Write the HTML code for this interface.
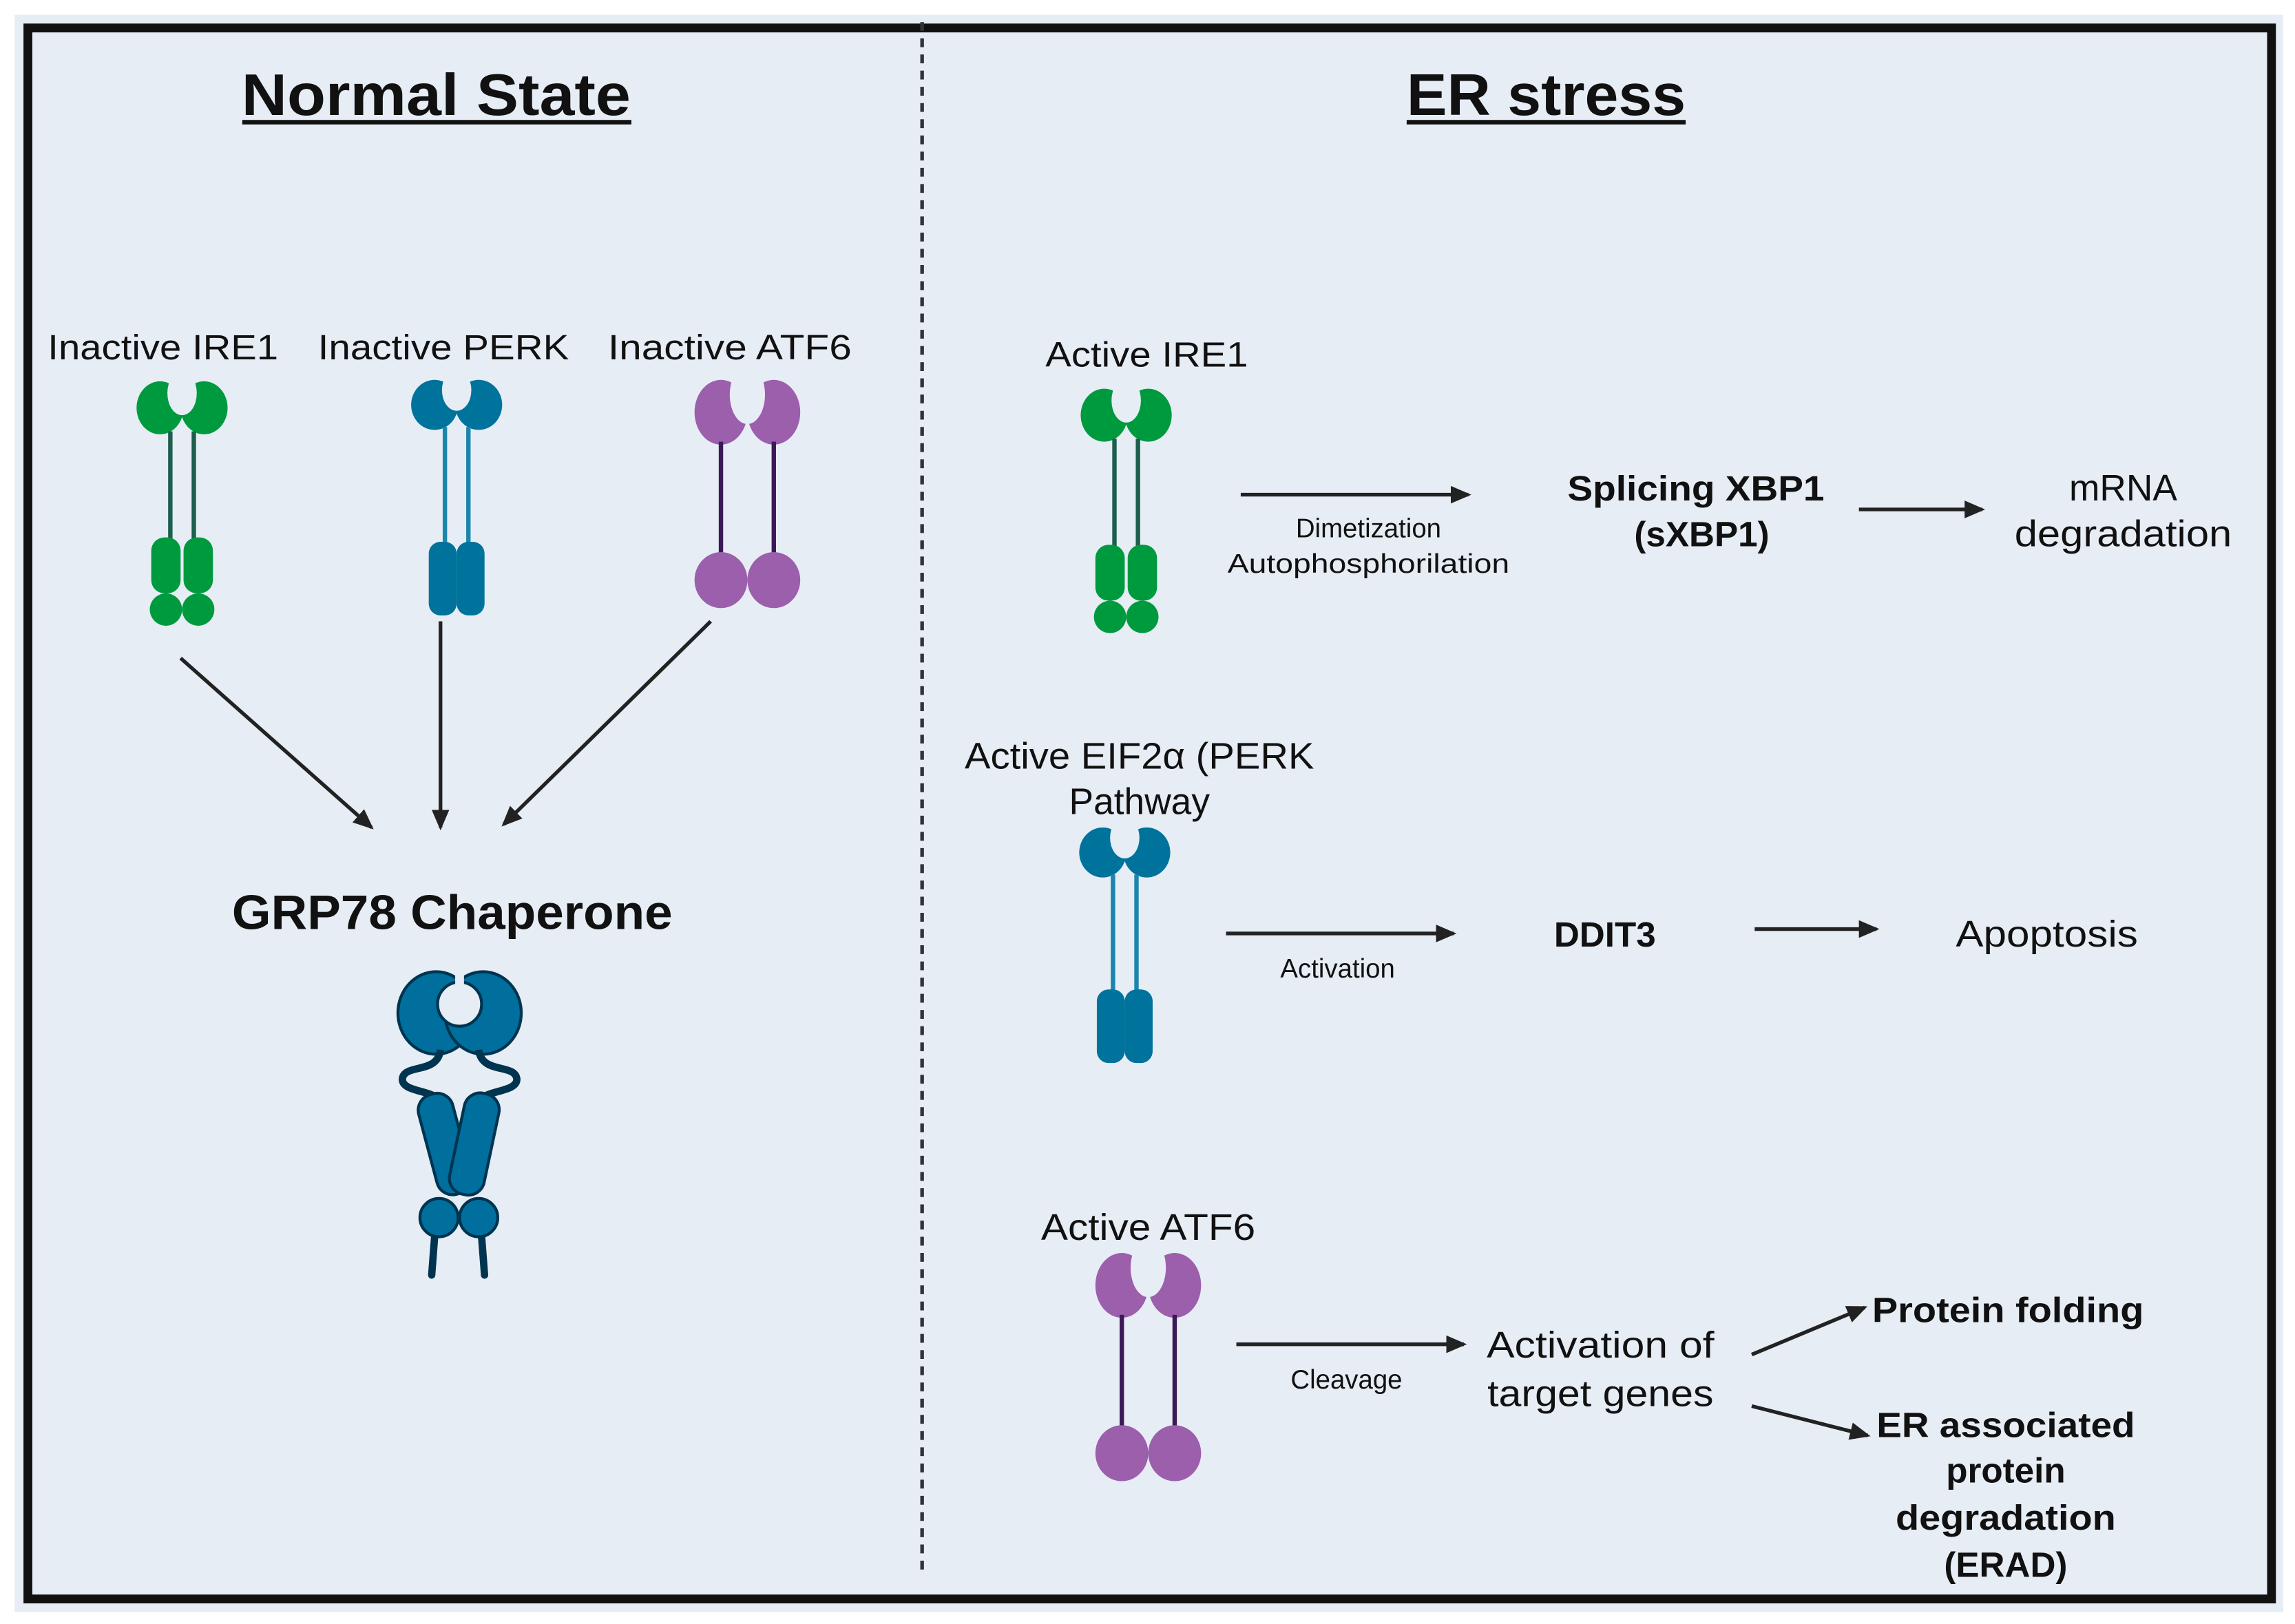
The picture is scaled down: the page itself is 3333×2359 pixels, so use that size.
<!DOCTYPE html>
<html><head><meta charset="utf-8"><style>
html,body{margin:0;padding:0;background:#fff}
svg{display:block}
text{font-family:"Liberation Sans",sans-serif;fill:#111}
</style></head><body>
<svg width="3333" height="2359" viewBox="0 0 1563 1103" preserveAspectRatio="none" xmlns="http://www.w3.org/2000/svg">
<defs>
<marker id="ah" markerWidth="14" markerHeight="12" refX="12" refY="6" orient="auto" markerUnits="userSpaceOnUse">
<path d="M0,0 L14,6 L0,12 Z" fill="#222"/></marker>
<g id="ire1">
<ellipse cx="-15" cy="18" rx="16" ry="18" fill="#009a3e"/>
<ellipse cx="15" cy="18" rx="16" ry="18" fill="#009a3e"/>
<ellipse cx="0" cy="8" rx="10" ry="15" fill="#e7edf5"/>
<rect x="-3" y="-2" width="6" height="12" fill="#e7edf5"/>
<line x1="-8" y1="34" x2="-8" y2="108" stroke="#1d5e4c" stroke-width="3"/>
<line x1="8" y1="34" x2="8" y2="108" stroke="#1d5e4c" stroke-width="3"/>
<rect x="-21" y="106" width="20" height="38" rx="9" fill="#009a3e"/>
<rect x="1" y="106" width="20" height="38" rx="9" fill="#009a3e"/>
<circle cx="-11" cy="155" r="11" fill="#009a3e"/>
<circle cx="11" cy="155" r="11" fill="#009a3e"/>
</g>
<g id="perk">
<ellipse cx="-15" cy="17" rx="16" ry="17" fill="#00739c"/>
<ellipse cx="15" cy="17" rx="16" ry="17" fill="#00739c"/>
<ellipse cx="0" cy="7" rx="10" ry="14" fill="#e7edf5"/>
<rect x="-3" y="-2" width="6" height="12" fill="#e7edf5"/>
<line x1="-8" y1="32" x2="-8" y2="112" stroke="#1b86ad" stroke-width="3"/>
<line x1="8" y1="32" x2="8" y2="112" stroke="#1b86ad" stroke-width="3"/>
<rect x="-19" y="110" width="19" height="50" rx="8" fill="#00739c"/>
<rect x="0" y="110" width="19" height="50" rx="8" fill="#00739c"/>
</g>
<g id="atf6">
<ellipse cx="-18" cy="22" rx="18" ry="22" fill="#9b5fac"/>
<ellipse cx="18" cy="22" rx="18" ry="22" fill="#9b5fac"/>
<ellipse cx="0" cy="10" rx="12" ry="20" fill="#e7edf5"/>
<rect x="-4" y="-2" width="8" height="14" fill="#e7edf5"/>
<line x1="-18" y1="42" x2="-18" y2="120" stroke="#3b1a55" stroke-width="3"/>
<line x1="18" y1="42" x2="18" y2="120" stroke="#3b1a55" stroke-width="3"/>
<ellipse cx="-18" cy="136" rx="18" ry="19" fill="#9b5fac"/>
<ellipse cx="18" cy="136" rx="18" ry="19" fill="#9b5fac"/>
</g>
</defs>
<rect x="10" y="10" width="1545" height="1085" fill="#e7edf5"/>
<rect x="19" y="19" width="1528" height="1067" fill="none" stroke="#111" stroke-width="6"/>
<line x1="628" y1="15" x2="628" y2="1066" stroke="#333" stroke-width="2.5" stroke-dasharray="6,5"/>

<text x="297" y="78" text-anchor="middle" font-size="40" font-weight="bold" textLength="265" lengthAdjust="spacingAndGlyphs">Normal State</text>
<line x1="165" y1="83" x2="430" y2="83" stroke="#111" stroke-width="3"/>
<text x="1053" y="78" text-anchor="middle" font-size="40" font-weight="bold" textLength="190" lengthAdjust="spacingAndGlyphs">ER stress</text>
<line x1="958" y1="83" x2="1148" y2="83" stroke="#111" stroke-width="3"/>

<text x="111" y="244" text-anchor="middle" font-size="24" textLength="157" lengthAdjust="spacingAndGlyphs">Inactive IRE1</text>
<text x="302" y="244" text-anchor="middle" font-size="24" textLength="171" lengthAdjust="spacingAndGlyphs">Inactive PERK</text>
<text x="497" y="244" text-anchor="middle" font-size="24" textLength="166" lengthAdjust="spacingAndGlyphs">Inactive ATF6</text>

<use href="#ire1" x="124" y="259"/>
<use href="#perk" x="311" y="258"/>
<use href="#atf6" x="509" y="258"/>

<line x1="123" y1="447" x2="253" y2="562" stroke="#222" stroke-width="2.5" marker-end="url(#ah)"/>
<line x1="300" y1="422" x2="300" y2="562" stroke="#222" stroke-width="2.5" marker-end="url(#ah)"/>
<line x1="484" y1="422" x2="343" y2="560" stroke="#222" stroke-width="2.5" marker-end="url(#ah)"/>

<text x="308" y="631" text-anchor="middle" font-size="33" font-weight="bold" textLength="300" lengthAdjust="spacingAndGlyphs">GRP78 Chaperone</text>
<g stroke="#00344f" stroke-width="2">
<ellipse cx="297" cy="688" rx="26" ry="28" fill="#006f9e"/>
<ellipse cx="329" cy="688" rx="26" ry="28" fill="#006f9e"/>
<circle cx="313" cy="682" r="15" fill="#e7edf5"/>
</g>
<rect x="310" y="658" width="6" height="12" fill="#e7edf5"/>
<path d="M300,713 C298,730 275,722 274,733 C274,742 295,740 300,748 M326,713 C328,730 351,722 352,733 C352,742 331,740 326,748" fill="none" stroke="#00344f" stroke-width="5"/>
<rect x="291" y="742" width="24" height="70" rx="11" fill="#006f9e" stroke="#00344f" stroke-width="2" transform="rotate(-15 303 777)"/>
<rect x="311" y="742" width="24" height="70" rx="11" fill="#006f9e" stroke="#00344f" stroke-width="2" transform="rotate(12 323 777)"/>
<line x1="296" y1="840" x2="294" y2="866" stroke="#00344f" stroke-width="5" stroke-linecap="round"/>
<line x1="328" y1="840" x2="330" y2="866" stroke="#00344f" stroke-width="5" stroke-linecap="round"/>
<circle cx="299" cy="827" r="13" fill="#006f9e" stroke="#00344f" stroke-width="2"/>
<circle cx="326" cy="827" r="13" fill="#006f9e" stroke="#00344f" stroke-width="2"/>

<text x="781" y="249" text-anchor="middle" font-size="24" textLength="138" lengthAdjust="spacingAndGlyphs">Active IRE1</text>
<use href="#ire1" x="767" y="264"/>
<line x1="845" y1="336" x2="1000" y2="336" stroke="#222" stroke-width="2.5" marker-end="url(#ah)"/>
<text x="932" y="365" text-anchor="middle" font-size="18">Dimetization</text>
<text x="932" y="389" text-anchor="middle" font-size="18" textLength="192" lengthAdjust="spacingAndGlyphs">Autophosphorilation</text>
<text x="1155" y="340" text-anchor="middle" font-size="24" font-weight="bold" textLength="175" lengthAdjust="spacingAndGlyphs">Splicing XBP1</text>
<text x="1159" y="371" text-anchor="middle" font-size="24" font-weight="bold">(sXBP1)</text>
<line x1="1266" y1="346" x2="1350" y2="346" stroke="#222" stroke-width="2.5" marker-end="url(#ah)"/>
<text x="1446" y="340" text-anchor="middle" font-size="25">mRNA</text>
<text x="1446" y="371" text-anchor="middle" font-size="25" textLength="148" lengthAdjust="spacingAndGlyphs">degradation</text>

<text x="776" y="522" text-anchor="middle" font-size="25" textLength="238" lengthAdjust="spacingAndGlyphs">Active EIF2α (PERK</text>
<text x="776" y="553" text-anchor="middle" font-size="25">Pathway</text>
<use href="#perk" x="766" y="562"/>
<line x1="835" y1="634" x2="990" y2="634" stroke="#222" stroke-width="2.5" marker-end="url(#ah)"/>
<text x="911" y="664" text-anchor="middle" font-size="18">Activation</text>
<text x="1093" y="643" text-anchor="middle" font-size="24" font-weight="bold">DDIT3</text>
<line x1="1195" y1="631" x2="1278" y2="631" stroke="#222" stroke-width="2.5" marker-end="url(#ah)"/>
<text x="1394" y="643" text-anchor="middle" font-size="25" textLength="124" lengthAdjust="spacingAndGlyphs">Apoptosis</text>

<text x="782" y="842" text-anchor="middle" font-size="25" textLength="146" lengthAdjust="spacingAndGlyphs">Active ATF6</text>
<use href="#atf6" x="782" y="851"/>
<line x1="842" y1="913" x2="997" y2="913" stroke="#222" stroke-width="2.5" marker-end="url(#ah)"/>
<text x="917" y="943" text-anchor="middle" font-size="18">Cleavage</text>
<text x="1090" y="922" text-anchor="middle" font-size="25" textLength="155" lengthAdjust="spacingAndGlyphs">Activation of</text>
<text x="1090" y="955" text-anchor="middle" font-size="25" textLength="154" lengthAdjust="spacingAndGlyphs">target genes</text>
<line x1="1193" y1="920" x2="1270" y2="888" stroke="#222" stroke-width="2.5" marker-end="url(#ah)"/>
<text x="1275" y="898" font-size="24" font-weight="bold" textLength="185" lengthAdjust="spacingAndGlyphs">Protein folding</text>
<line x1="1193" y1="955" x2="1272" y2="975" stroke="#222" stroke-width="2.5" marker-end="url(#ah)"/>
<text x="1366" y="976" text-anchor="middle" font-size="24" font-weight="bold" textLength="176" lengthAdjust="spacingAndGlyphs">ER associated</text>
<text x="1366" y="1007" text-anchor="middle" font-size="24" font-weight="bold">protein</text>
<text x="1366" y="1039" text-anchor="middle" font-size="24" font-weight="bold" textLength="150" lengthAdjust="spacingAndGlyphs">degradation</text>
<text x="1366" y="1071" text-anchor="middle" font-size="24" font-weight="bold">(ERAD)</text>
</svg>
</body></html>
